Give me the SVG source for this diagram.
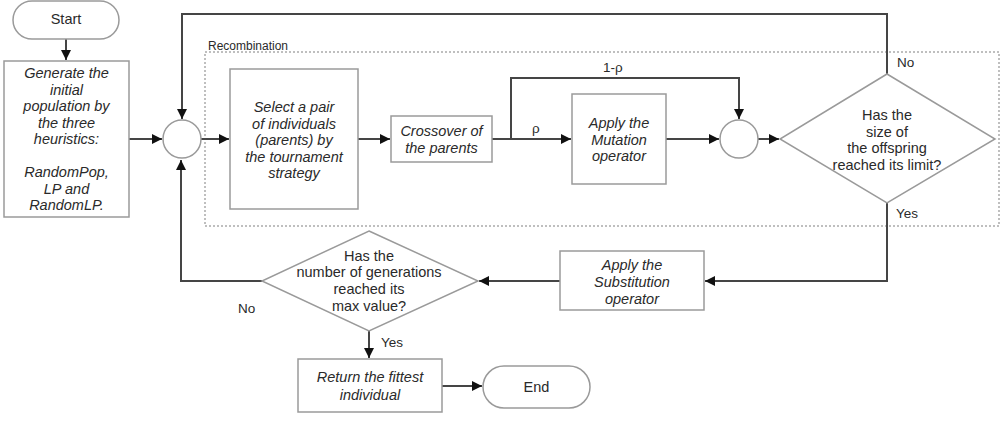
<svg xmlns="http://www.w3.org/2000/svg" width="1000" height="422" viewBox="0 0 1000 422">
<style>
.box{fill:#fff;stroke:#9a9a9a;stroke-width:1.5}
.t{font-family:"Liberation Sans",Arial,sans-serif;font-size:14.5px;fill:#2a2a2a;text-anchor:middle}
.i{font-style:italic}
.lbl{font-family:"Liberation Sans",Arial,sans-serif;font-size:13.5px;fill:#2a2a2a}
.c{fill:none;stroke:#454545;stroke-width:2}
.rec{fill:none;stroke:#aaa;stroke-width:1.5;stroke-dasharray:2 2}
</style>
<defs>
<marker id="ah" markerUnits="userSpaceOnUse" markerWidth="12" markerHeight="12" refX="10" refY="5" orient="auto">
<path d="M0,0 L10,5 L0,10 Z" fill="#111"/>
</marker>
</defs>
<g id="recombination">
<rect class="rec" x="205" y="52" width="794" height="174"/>
<text class="lbl" x="208" y="50" style="font-size:12px">Recombination</text>
</g>
<g id="connectors">
<path class="c" d="M66,39 V60" marker-end="url(#ah)"/>
<path class="c" d="M129,139 H162" marker-end="url(#ah)"/>
<path class="c" d="M201,139 H229" marker-end="url(#ah)"/>
<path class="c" d="M358,139 H390" marker-end="url(#ah)"/>
<path class="c" d="M492,139 H571" marker-end="url(#ah)"/>
<path class="c" d="M511,139 V78 H739 V119" marker-end="url(#ah)"/>
<path class="c" d="M666,139 H719" marker-end="url(#ah)"/>
<path class="c" d="M758,139 H779" marker-end="url(#ah)"/>
<path class="c" d="M887,74 V14 H182 V119" marker-end="url(#ah)"/>
<path class="c" d="M887,203 V281 H705" marker-end="url(#ah)"/>
<path class="c" d="M560,281 H479" marker-end="url(#ah)"/>
<path class="c" d="M262,281 H181 V160" marker-end="url(#ah)"/>
<path class="c" d="M369,331 V358" marker-end="url(#ah)"/>
<path class="c" d="M442,386 H482" marker-end="url(#ah)"/>
<text class="lbl" x="603" y="72">1-ρ</text>
<text class="lbl" x="532" y="133">ρ</text>
<text class="lbl" x="897" y="67">No</text>
<text class="lbl" x="896" y="218">Yes</text>
<text class="lbl" x="238" y="313">No</text>
<text class="lbl" x="381" y="347">Yes</text>
</g>
<g id="start">
<rect class="box" x="13" y="1" width="106" height="38" rx="19"/>
<text class="t" x="66" y="24">Start</text>
</g>
<g id="generate">
<rect class="box" x="4" y="61" width="125" height="156"/>
<text class="t i" x="66.5" y="78">Generate the</text>
<text class="t i" x="66.5" y="94.5">initial</text>
<text class="t i" x="66.5" y="111">population by</text>
<text class="t i" x="66.5" y="127.5">the three</text>
<text class="t i" x="66.5" y="144">heuristics:</text>
<text class="t i" x="66.5" y="177">RandomPop,</text>
<text class="t i" x="66.5" y="193.5">LP and</text>
<text class="t i" x="66.5" y="210">RandomLP.</text>
</g>
<g id="merge1">
<circle class="box" cx="182" cy="139" r="19"/>
</g>
<g id="select">
<rect class="box" x="230" y="69" width="128" height="140"/>
<text class="t i" x="294" y="112">Select a pair</text>
<text class="t i" x="294" y="128.5">of individuals</text>
<text class="t i" x="294" y="145">(parents) by</text>
<text class="t i" x="294" y="161.5">the tournament</text>
<text class="t i" x="294" y="178">strategy</text>
</g>
<g id="crossover">
<rect class="box" x="391" y="116" width="101" height="46"/>
<text class="t i" x="441.5" y="136">Crossover of</text>
<text class="t i" x="441.5" y="152.5">the parents</text>
</g>
<g id="mutation">
<rect class="box" x="572" y="94" width="94" height="90"/>
<text class="t i" x="619" y="128">Apply the</text>
<text class="t i" x="619" y="144.5">Mutation</text>
<text class="t i" x="619" y="161">operator</text>
</g>
<g id="merge2">
<circle class="box" cx="739" cy="139" r="19"/>
</g>
<g id="offspring-check">
<polygon class="box" points="887,74 995,139 887,203 780,139"/>
<text class="t" x="887" y="120">Has the</text>
<text class="t" x="887" y="137">size of</text>
<text class="t" x="887" y="153">the offspring</text>
<text class="t" x="887" y="170">reached its limit?</text>
</g>
<g id="substitution">
<rect class="box" x="560" y="251" width="144" height="59"/>
<text class="t i" x="632" y="270">Apply the</text>
<text class="t i" x="632" y="287">Substitution</text>
<text class="t i" x="632" y="304">operator</text>
</g>
<g id="generation-check">
<polygon class="box" points="369,231 478,281 369,331 262,281"/>
<text class="t" x="369" y="261">Has the</text>
<text class="t" x="369" y="277">number of generations</text>
<text class="t" x="369" y="294">reached its</text>
<text class="t" x="369" y="311">max value?</text>
</g>
<g id="return">
<rect class="box" x="298" y="359" width="144" height="53"/>
<text class="t i" x="370" y="382">Return the fittest</text>
<text class="t i" x="370" y="400">individual</text>
</g>
<g id="end">
<rect class="box" x="483" y="366" width="107" height="42" rx="21"/>
<text class="t" x="536.5" y="392">End</text>
</g>
</svg>
